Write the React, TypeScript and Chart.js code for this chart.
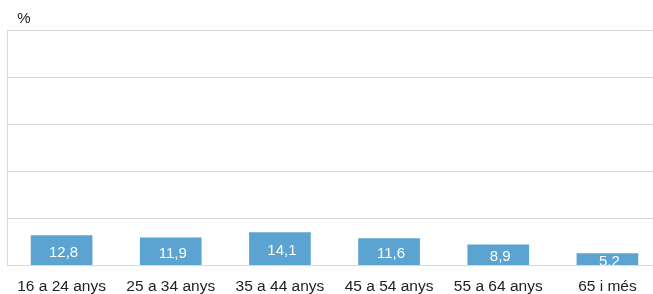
import React, { useEffect, useRef } from "react";
import { Chart, registerables } from "chart.js";

Chart.register(...registerables);

const categories = ["16 a 24 anys", "25 a 34 anys", "35 a 44 anys", "45 a 54 anys", "55 a 64 anys", "65 i més"];
const values = [12.8, 11.9, 14.1, 11.6, 8.9, 5.2];
const valueLabels = ["12,8", "11,9", "14,1", "11,6", "8,9", "5,2"];
const unitLabel = "%";

const FONT = "'Liberation Sans', Arial, sans-serif";

const labelPlugin = {
  id: "valueLabels",
  afterDatasetsDraw(chart: any) {
    const { ctx, chartArea } = chart;
    const meta = chart.getDatasetMeta(0);
    ctx.save();
    ctx.beginPath();
    ctx.rect(chartArea.left, chartArea.top, chartArea.right - chartArea.left, chartArea.bottom - chartArea.top);
    ctx.clip();
    ctx.fillStyle = "#ffffff";
    ctx.font = `15px ${FONT}`;
    ctx.textAlign = "center";
    ctx.textBaseline = "middle";
    meta.data.forEach((bar: any, i: number) => {
      const y = (bar.y + bar.base) / 2 + 2.5;
      ctx.fillText(valueLabels[i], bar.x + 2, y);
    });
    ctx.restore();
    ctx.save();
    ctx.fillStyle = "#222222";
    ctx.font = `15px ${FONT}`;
    ctx.textAlign = "center";
    ctx.textBaseline = "alphabetic";
    ctx.fillText(unitLabel, 24, 23);
    ctx.restore();
  },
};

export default function App() {
  const ref = useRef<HTMLCanvasElement | null>(null);
  useEffect(() => {
    document.body.style.margin = "0";
    const chart = new Chart(ref.current!, {
      type: "bar",
      data: {
        labels: categories,
        datasets: [
          {
            data: values,
            backgroundColor: "#5BA3D0",
            borderWidth: 0,
            categoryPercentage: 1,
            barPercentage: 0.565,
          },
        ],
      },
      options: {
        animation: false,
        responsive: false,
        maintainAspectRatio: false,
        layout: { padding: { left: 7, right: 0, top: 30, bottom: 0 } },
        plugins: { legend: { display: false }, tooltip: { enabled: false } },
        scales: {
          x: {
            grid: { display: false, drawTicks: true, tickLength: 13 },
            border: { display: true, color: "#d9d9d9", width: 1 },
            ticks: {
              color: "#222222",
              font: { family: FONT, size: 15.5, lineHeight: 1 },
              padding: 0,
              maxRotation: 0,
              autoSkip: false,
            },
          },
          y: {
            min: 0,
            max: 100,
            ticks: { display: false, stepSize: 20 },
            grid: { color: "#d9d9d9", lineWidth: 1, drawTicks: false },
            border: { display: true, color: "#d9d9d9", width: 1 },
          },
        },
      },
      plugins: [labelPlugin],
    });
    return () => chart.destroy();
  }, []);
  return (
    <div style={{ width: 653, height: 294, overflow: "hidden" }}>
      <canvas ref={ref} width={662} height={294} style={{ display: "block", width: 662, height: 294 }} />
    </div>
  );
}
